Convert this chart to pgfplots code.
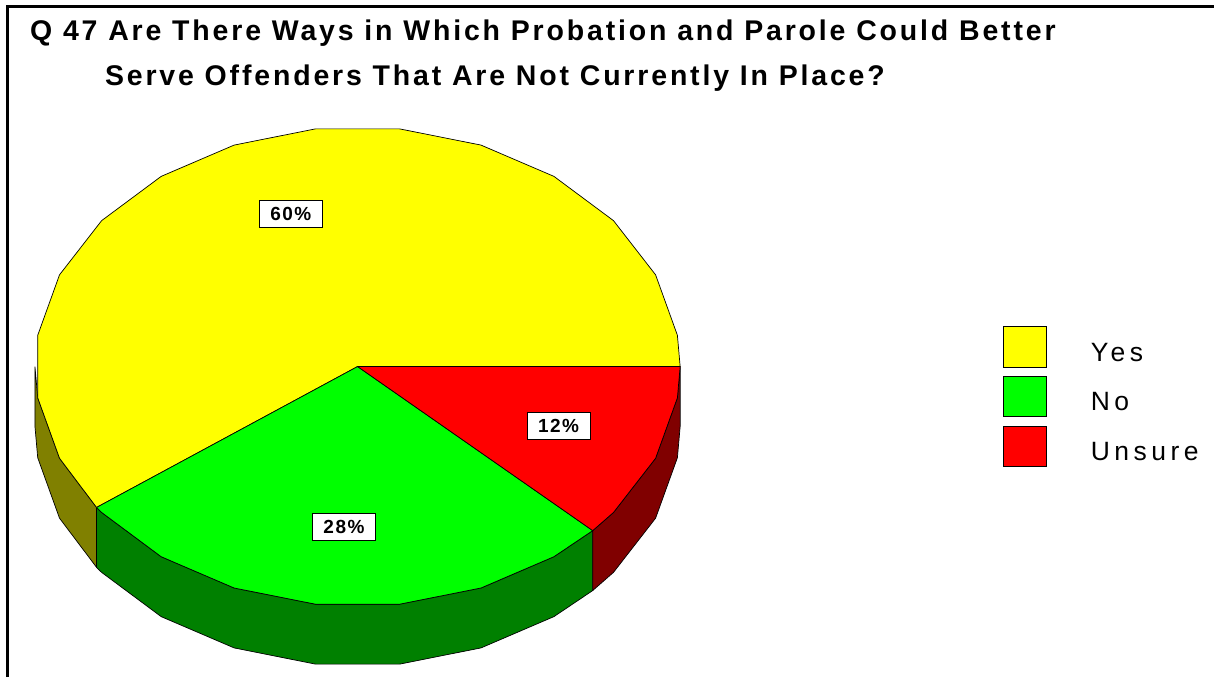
\documentclass[border=0pt]{standalone}
\usepackage{fontspec}
\setmainfont{Liberation Sans}
\newfontfamily\titlefont[LetterSpace=10]{Liberation Sans}
\newfontfamily\legfont[LetterSpace=17]{Liberation Sans}
\newfontfamily\labfont[LetterSpace=8]{Liberation Sans}
\usepackage{pgfplots}
\usepackage{pgfplotstable}
\pgfplotsset{compat=1.18}
\definecolor{cyes}{RGB}{255,255,0}
\definecolor{cno}{RGB}{0,255,0}
\definecolor{cun}{RGB}{255,0,0}
\definecolor{dyes}{RGB}{128,128,0}
\definecolor{dno}{RGB}{0,128,0}
\definecolor{dun}{RGB}{128,0,0}

\pgfplotstableread{
label value
Yes 60
No 28
Unsure 12
}\piedata
\pgfplotstablegetelem{0}{value}\of\piedata \let\vYes\pgfplotsretval
\pgfplotstablegetelem{1}{value}\of\piedata \let\vNo\pgfplotsretval
\pgfplotstablegetelem{2}{value}\of\piedata \let\vUn\pgfplotsretval
\pgfmathsetmacro\aYes{3.6*\vYes}
\pgfmathsetmacro\aNo{3.6*(\vYes+\vNo)}
\pgfmathsetmacro\bYes{1000+\aYes}
\pgfmathsetmacro\bNo{1000+\aNo}
\pgfmathsetmacro\mYes{\aYes/2}
\pgfmathsetmacro\mNo{(\aYes+\aNo)/2}
\pgfmathsetmacro\mUn{(\aNo+360)/2}

\begin{document}
\begin{tikzpicture}
\begin{axis}[scale only axis, width=1215pt, height=678pt,
  xmin=0, xmax=1215, ymin=0, ymax=678, axis lines=none, clip=false,
  no markers, every axis plot/.append style={draw=black, line width=0.7pt, line join=round}]
% side walls (front half)
\addplot[fill=dyes, samples at={180,187.5,202.5,\aYes,\bYes,1202.5,1187.5,1180,180}]
  ({358+323*cos(x-1000*(x>999))}, {311+240*sin(x-1000*(x>999))-60*(x>999)});
\addplot[fill=dno, samples at={\aYes,217.5,232.5,...,307.5,\aNo,\bNo,1307.5,1292.5,...,1217.5,\bYes,\aYes}]
  ({358+323*cos(x-1000*(x>999))}, {311+240*sin(x-1000*(x>999))-60*(x>999)});
\addplot[fill=dun, samples at={\aNo,322.5,337.5,352.5,360,1360,1352.5,1337.5,1322.5,\bNo,\aNo}]
  ({358+323*cos(x-1000*(x>999))}, {311+240*sin(x-1000*(x>999))-60*(x>999)});
% top faces
\addplot[fill=cyes, samples at={0,7.5,22.5,...,202.5,\aYes,999,0}]
  ({358+323*(x<500)*cos(x)}, {311+240*(x<500)*sin(x)});
\addplot[fill=cno, samples at={\aYes,217.5,232.5,...,307.5,\aNo,999,\aYes}]
  ({358+323*(x<500)*cos(x)}, {311+240*(x<500)*sin(x)});
\addplot[fill=cun, samples at={\aNo,322.5,337.5,352.5,360,999,\aNo}]
  ({358+323*(x<500)*cos(x)}, {311+240*(x<500)*sin(x)});
% percentage labels
\tikzset{plab/.style={draw=black, fill=white, line width=0.7pt, minimum width=63pt, minimum height=27pt, inner sep=0pt,
  font=\labfont\fontsize{19}{22}\selectfont\bfseries}}
\node[plab] at (axis cs:{358+0.67*323*cos(\mYes)},{311+0.67*240*sin(\mYes)}) {\vYes\%};
\node[plab] at (axis cs:{358+0.67*323*cos(\mNo)},{311+0.67*240*sin(\mNo)}) {\vNo\%};
\node[plab] at (axis cs:{358+0.67*323*cos(\mUn)},{311+0.67*240*sin(\mUn)}) {\vUn\%};
% legend
\filldraw[fill=cyes, draw=black, line width=0.7pt] (axis cs:1005,310) rectangle (axis cs:1048,351);
\filldraw[fill=cno, draw=black, line width=0.7pt] (axis cs:1005,261) rectangle (axis cs:1048,301);
\filldraw[fill=cun, draw=black, line width=0.7pt] (axis cs:1005,211) rectangle (axis cs:1048,251);
\node[anchor=base west, inner sep=0pt, font=\legfont\fontsize{26.5}{30}\selectfont] at (axis cs:1092,316) {Yes};
\node[anchor=base west, inner sep=0pt, font=\legfont\fontsize{26.5}{30}\selectfont] at (axis cs:1092,266.5) {No};
\node[anchor=base west, inner sep=0pt, font=\legfont\fontsize{26.5}{30}\selectfont] at (axis cs:1092,216.5) {Unsure};
% title
\node[anchor=base west, inner sep=0pt, font=\titlefont\fontsize{28.5}{32}\selectfont\bfseries] at (axis cs:30,637)
  {Q 47 Are There Ways in Which Probation and Parole Could Better};
\node[anchor=base west, inner sep=0pt, font=\titlefont\fontsize{28.5}{32}\selectfont\bfseries] at (axis cs:105,592)
  {Serve Offenders That Are Not Currently In Place?};
% frame
\draw[line width=3pt] (axis cs:8,0) -- (axis cs:8,671) -- (axis cs:1215,671);
\end{axis}
\useasboundingbox (0,0) rectangle (1215pt,678pt);
\end{tikzpicture}
\end{document}
